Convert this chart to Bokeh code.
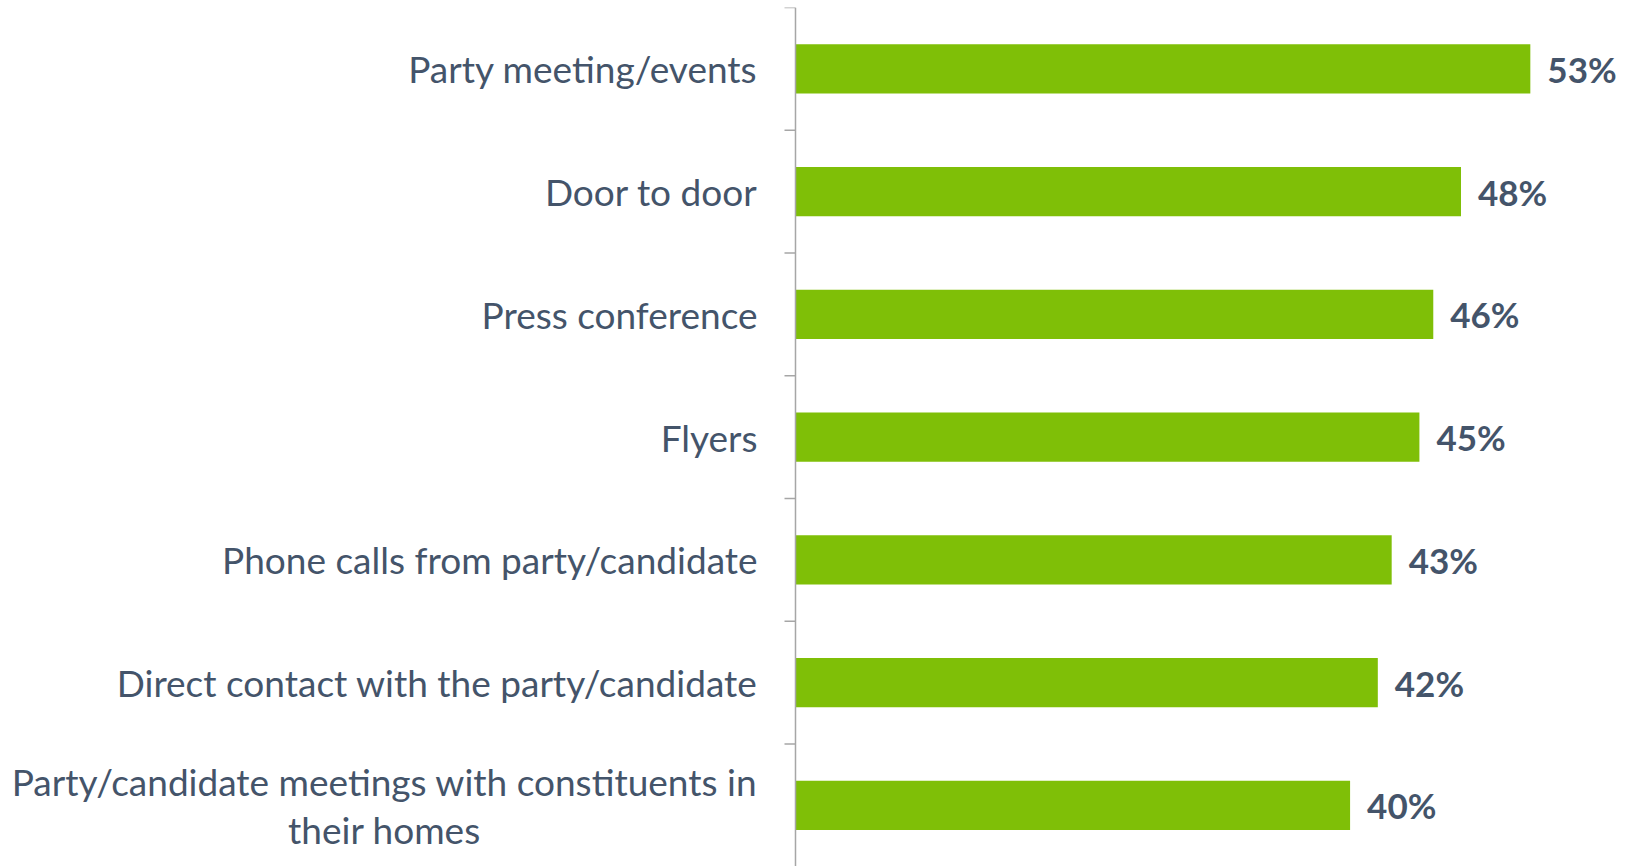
from bokeh.plotting import figure
from bokeh.models import ColumnDataSource, Range1d, Span
from bokeh.embed import file_html
from bokeh.resources import INLINE

categories = [
    "Party meeting/events",
    "Door to door",
    "Press conference",
    "Flyers",
    "Phone calls from party/candidate",
    "Direct contact with the party/candidate",
    "Party/candidate meetings with constituents in\ntheir homes",
]
values = [53, 48, 46, 45, 43, 42, 40]
value_labels = [f"{v}%" for v in values]
positions = list(range(len(categories)))

GREEN = "#7FBF07"
TEXT = "#44546A"
AXIS = "#A6A6A6"

single = [i for i, c in enumerate(categories) if "\n" not in c]
multi = [i for i, c in enumerate(categories) if "\n" in c]

src = ColumnDataSource(dict(cat=categories, val=values, lab=value_labels, y=positions))
ssrc = ColumnDataSource(dict(cat=[categories[i] for i in single],
                             y=[positions[i] for i in single],
                             x=[0 for _ in single]))
msrc = ColumnDataSource(dict(cat=[categories[i] for i in multi],
                             y=[positions[i] for i in multi],
                             x=[0 for _ in multi]))
boundaries = [i - 0.5 for i in range(len(categories) + 1)]
tsrc = ColumnDataSource(dict(y=boundaries, x=[0 for _ in boundaries]))

p = figure(
    width=1637, height=866,
    x_range=Range1d(-57.34, 60.73),
    y_range=Range1d(6.498, -0.5),
    x_axis_location=None, y_axis_location=None,
    toolbar_location=None, output_backend="svg",
    min_border_left=0, min_border_right=0, min_border_top=7, min_border_bottom=0,
)
p.outline_line_color = None
p.background_fill_color = "white"
p.border_fill_color = "white"
p.grid.visible = False

# bars and value labels
p.hbar(y="y", left=0, right="val", height=0.4, fill_color=GREEN, line_color=None, source=src)
p.text(x="val", y="y", text="lab", x_offset=17, text_baseline="middle", text_align="left",
       text_font={"value": "Lato"}, text_font_style="bold", text_font_size="35px",
       text_color=TEXT, source=src)

# category axis: line at zero with outward ticks between categories
p.add_layout(Span(location=0, dimension="height", line_color=AXIS, line_width=1.5))
p.ray(x="x", y="y", length=11, length_units="screen", angle=180, angle_units="deg",
      line_color=AXIS, line_width=1.5, source=tsrc)

# category labels
p.text(x="x", y="y", text="cat", x_offset=-38, text_align="right", text_baseline="middle",
       text_font={"value": "Lato"}, text_font_size="37px", text_color=TEXT, source=ssrc)
p.text(x="x", y="y", text="cat", x_offset=-411, text_align="center", text_baseline="middle",
       text_font={"value": "Lato"}, text_font_size="37px", text_color=TEXT,
       text_line_height=1.08, source=msrc)

open("out.html", "w").write(file_html(p, INLINE))
